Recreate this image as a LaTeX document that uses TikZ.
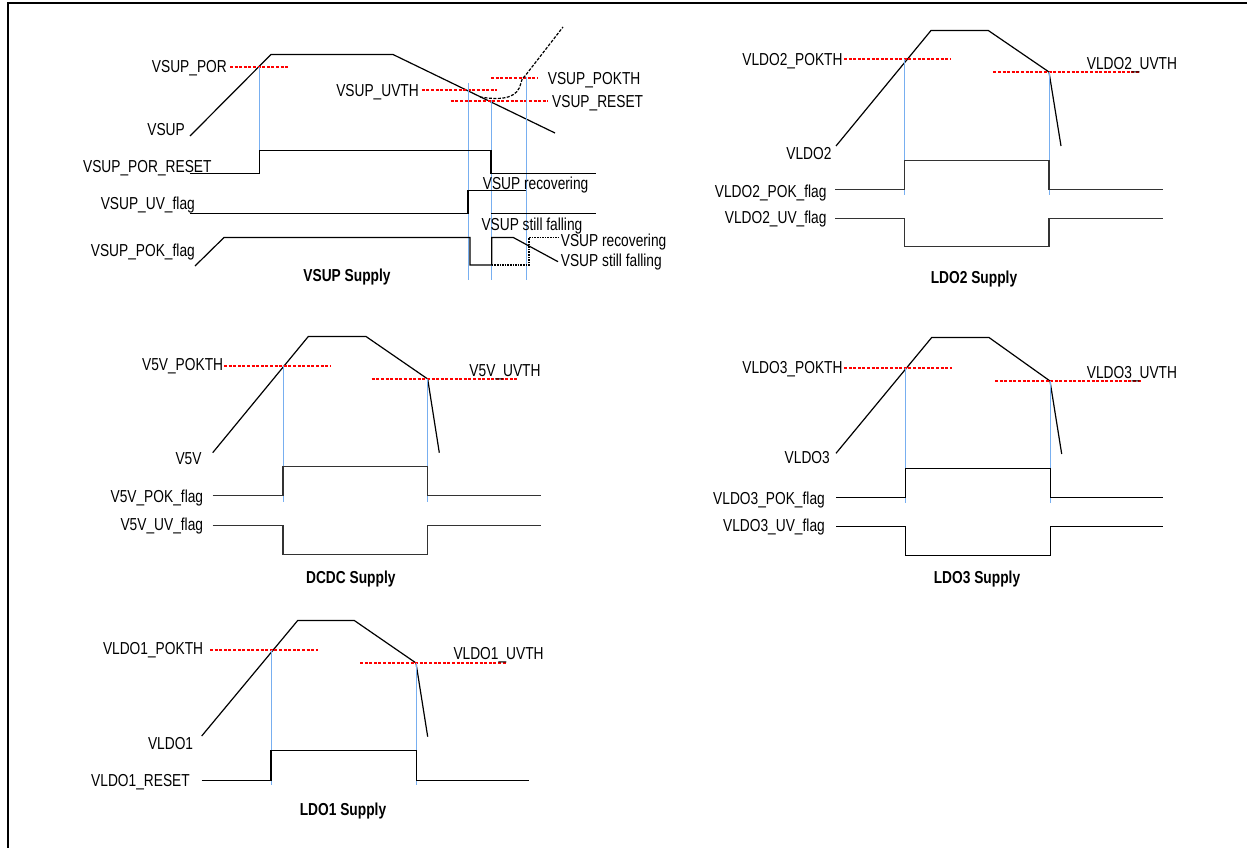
\documentclass[tikz,border=0pt]{standalone}
\usepackage{fontspec}
\setmainfont{Liberation Sans}
\usepackage{graphicx}
\newcommand{\tx}[1]{\scalebox{1}[1.26]{#1}}
\definecolor{mk}{RGB}{120,175,240}
\begin{document}
\begin{tikzpicture}[x=1bp,y=-1bp,
  wave/.style={line width=1.2bp, black, line join=miter},
  wavegr/.style={line width=1.2bp, black!80},
  thr/.style={line width=2bp, red, dash pattern=on 3bp off 1.6bp},
  vline/.style={line width=1bp, mk},
  bdash/.style={line width=1.2bp, black, dash pattern=on 3bp off 1.5bp},
  dotline/.style={line width=1.8bp, black, dash pattern=on 1.6bp off 1bp},
  lbl/.style={inner sep=0pt, font=\fontsize{13.8}{16}\selectfont},
  ttl/.style={inner sep=0pt, font=\fontsize{13.8}{16}\selectfont\bfseries},
]
\useasboundingbox (0,0) rectangle (1247,848);
\draw[line width=2bp] (8,848) -- (8,3) -- (1247,3);

% ---------------- VSUP ----------------
\draw[wave] (190,136) -- (271,54.5) -- (393,54.5) -- (555,133);
\draw[thr] (230,67) -- (289,67);
\draw[vline] (259.5,67) -- (259.5,150);
\draw[thr] (421.7,90) -- (496.7,90);
\draw[thr] (450.7,101) -- (547.7,101);
\draw[thr] (491,78) -- (538,78);
\draw[bdash] (480,97) .. controls (505,101) and (518,97) .. (521,83) .. controls (522,79) .. (525,76) -- (563,27);
\draw[vline] (468.5,83) -- (468.5,280);
\draw[vline] (491.5,100) -- (491.5,280);
\draw[vline] (526.5,77) -- (526.5,280);
\draw[wave] (190,173.5) -- (259.7,173.5) -- (259.7,150.5) -- (491,150.5) -- (491,173.5) -- (596,173.5);
\draw[wave] (190,213.5) -- (468,213.5) -- (468,190.5) -- (525.5,190.5);
\draw[wave] (491,213.5) -- (596,213.5);
\draw[wave] (195,266) -- (224,237.5) -- (470,237.5) -- (470,265) -- (491.7,265) -- (491.7,237.5) -- (513.3,237.5) -- (558,261.7);
\draw[dotline] (491.7,265) -- (529,265) -- (529,237.5) -- (558,237.5);

\node[lbl, anchor=base east] (lpor) at (227,72.3) {\tx{VSUP\_POR}};
\node[lbl, anchor=base east] (lvsup) at (185,135) {\tx{VSUP}};
\node[lbl, anchor=base east] (lporrst) at (211.7,172) {\tx{VSUP\_POR\_RESET}};
\node[lbl, anchor=base east] (luv) at (195,209.6) {\tx{VSUP\_UV\_flag}};
\node[lbl, anchor=base east] (lpok) at (195,256.3) {\tx{VSUP\_POK\_flag}};
\node[lbl, anchor=base east] (luvth) at (419,96.3) {\tx{VSUP\_UVTH}};
\node[lbl, anchor=base west] (lpokth) at (547.7,84) {\tx{VSUP\_POKTH}};
\node[lbl, anchor=base west] (lrst) at (552,107) {\tx{VSUP\_RESET}};
\node[lbl, anchor=base west] (lrec1) at (482.7,189.6) {\tx{VSUP recovering}};
\node[lbl, anchor=base west] (lfal1) at (481.3,230.3) {\tx{VSUP still falling}};
\node[lbl, anchor=base west] (lrec2) at (560.7,246.3) {\tx{VSUP recovering}};
\node[lbl, anchor=base west] (lfal2) at (560.7,266.3) {\tx{VSUP still falling}};
\node[ttl, anchor=base] (tvsup) at (347,281.3) {\tx{VSUP Supply}};

% ---------------- LDO2 ----------------
\draw[wave] (836,146) -- (931,30.5) -- (988.3,30.5) -- (1049,72) -- (1061,146);
\draw[thr] (844,59) -- (950.7,59);
\draw[thr] (993.3,72) -- (1140,72);
\draw[vline] (904.5,59) -- (904.5,195);
\draw[vline] (1049.5,72) -- (1049.5,195);
\draw[wavegr] (835,189.5) -- (904.3,189.5) -- (904.3,160.5) -- (1049,160.5) -- (1049,189.5) -- (1163.3,189.5);
\draw[wavegr] (835,218.5) -- (904.3,218.5) -- (904.3,246.5) -- (1049,246.5) -- (1049,218.5) -- (1163.3,218.5);
\node[lbl, anchor=base east] (l2pokth) at (842.7,65.6) {\tx{VLDO2\_POKTH}};
\node[lbl, anchor=base west] (l2uvth) at (1086.7,69) {\tx{VLDO2\_UVTH}};
\node[lbl, anchor=base east] (l2v) at (831.7,159) {\tx{VLDO2}};
\node[lbl, anchor=base east] (l2pok) at (826.7,197) {\tx{VLDO2\_POK\_flag}};
\node[lbl, anchor=base east] (l2uv) at (826.7,223.6) {\tx{VLDO2\_UV\_flag}};
\node[ttl, anchor=base] (t2) at (974,283.6) {\tx{LDO2 Supply}};

% ---------------- DCDC ----------------
\draw[wave] (212.7,452.7) -- (308.3,336.5) -- (366,336.5) -- (427.7,379) -- (439.3,452.7);
\draw[thr] (224,366) -- (330,366);
\draw[thr] (371.7,379) -- (518.3,379);
\draw[vline] (283.5,366) -- (283.5,501.7);
\draw[vline] (427.5,379) -- (427.5,501.7);
\draw[wavegr] (212.7,495.5) -- (283,495.5) -- (283,466.5) -- (427.7,466.5) -- (427.7,495.5) -- (540.7,495.5);
\draw[wavegr] (212.7,525.5) -- (283,525.5) -- (283,554.5) -- (427.7,554.5) -- (427.7,525.5) -- (540.7,525.5);
\node[lbl, anchor=base east] (l5pokth) at (223.3,370.6) {\tx{V5V\_POKTH}};
\node[lbl, anchor=base east] (l5uvth) at (540.7,376.3) {\tx{V5V\_UVTH}};
\node[lbl, anchor=base east] (l5v) at (201.7,464.6) {\tx{V5V}};
\node[lbl, anchor=base east] (l5pok) at (203.3,502.6) {\tx{V5V\_POK\_flag}};
\node[lbl, anchor=base east] (l5uv) at (203.3,530.6) {\tx{V5V\_UV\_flag}};
\node[ttl, anchor=base] (t5) at (350.8,583) {\tx{DCDC Supply}};

% ---------------- LDO3 ----------------
\draw[wave] (836,453.3) -- (931.7,337.5) -- (989,337.5) -- (1050,381) -- (1061.7,454);
\draw[thr] (844,368) -- (951.7,368);
\draw[thr] (995,381) -- (1140.7,381);
\draw[vline] (905.5,368) -- (905.5,503.3);
\draw[vline] (1050.5,381) -- (1050.5,503.3);
\draw[wave] (836,497.5) -- (905.7,497.5) -- (905.7,468.5) -- (1050.7,468.5) -- (1050.7,497.5) -- (1163.3,497.5);
\draw[wave] (836,526.5) -- (905.7,526.5) -- (905.7,555.5) -- (1050.7,555.5) -- (1050.7,526.5) -- (1163.3,526.5);
\node[lbl, anchor=base east] (l3pokth) at (842.7,373) {\tx{VLDO3\_POKTH}};
\node[lbl, anchor=base west] (l3uvth) at (1086.7,378) {\tx{VLDO3\_UVTH}};
\node[lbl, anchor=base east] (l3v) at (830,463.6) {\tx{VLDO3}};
\node[lbl, anchor=base east] (l3pok) at (825,504.6) {\tx{VLDO3\_POK\_flag}};
\node[lbl, anchor=base east] (l3uv) at (825,531.3) {\tx{VLDO3\_UV\_flag}};
\node[ttl, anchor=base] (t3) at (977,583.6) {\tx{LDO3 Supply}};

% ---------------- LDO1 ----------------
\draw[wave] (201.7,736) -- (297.7,620.5) -- (354.3,620.5) -- (416,663) -- (427.7,736.7);
\draw[thr] (210,650) -- (318.3,650);
\draw[thr] (360,663) -- (506.7,663);
\draw[vline] (271.5,650) -- (271.5,785);
\draw[vline] (416.5,663) -- (416.5,785);
\draw[wave] (201.7,780.5) -- (271,780.5) -- (271,750.5) -- (416.3,750.5) -- (416.3,780.5) -- (529,780.5);
\node[lbl, anchor=base east] (l1pokth) at (203.3,654.6) {\tx{VLDO1\_POKTH}};
\node[lbl, anchor=base west] (l1uvth) at (453.3,659) {\tx{VLDO1\_UVTH}};
\node[lbl, anchor=base east] (l1v) at (193.3,749) {\tx{VLDO1}};
\node[lbl, anchor=base east] (l1rst) at (190,786.3) {\tx{VLDO1\_RESET}};
\node[ttl, anchor=base] (t1) at (343,815.3) {\tx{LDO1 Supply}};
\end{tikzpicture}
\end{document}
